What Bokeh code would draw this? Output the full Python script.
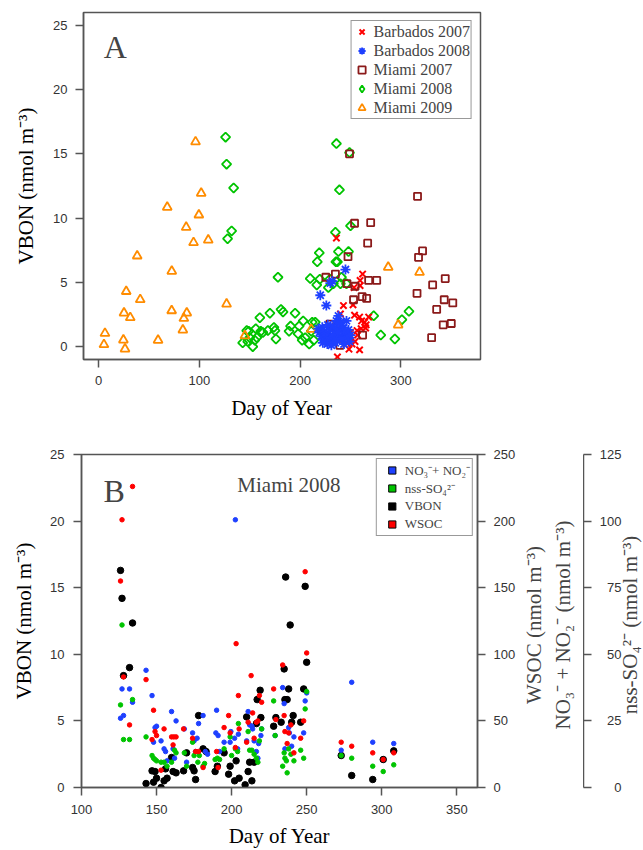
import math
from bokeh.plotting import figure
from bokeh.models import Range1d, LinearAxis, FixedTicker, Legend, LegendItem, Label
from bokeh.layouts import column, row
from bokeh.embed import file_html
from bokeh.resources import INLINE

# ---------------- data: panel A (VBON, nmol m-3 vs day of year) ----------------
days_b07 = [236, 262, 253.5, 259.5, 243, 252.5, 240, 254, 259, 264, 265.5, 260.5, 256.5, 243,
            251.5, 248.5, 259, 237, 254.5, 259.5, 261, 268, 265, 249.5, 246, 257, 241, 250]
vbon_b07 = [8.45, 5.65, 4.6, 4.75, 3.2, 3.25, 2.55, 2.45, 2.3, 1.9, 1.7, 1.4, 1.25, 1.0,
            0.2, -0.2, -0.25, -0.8, 0.4, 5.15, 2.0, 2.3, 1.45, 0.7, 0.3, 0.9, 1.7, 1.1]

days_b08 = [220, 226, 245, 230, 232,
            218, 219, 221, 222, 223, 224, 225, 226, 227, 228, 229, 230, 231, 232, 233, 234, 235,
            236, 237, 238, 239, 240, 241, 242, 243, 244, 245, 246, 247, 248, 249, 250,
            222.5, 227.5, 233.5, 236.5, 239.5, 243.5, 237.5, 241.5]
vbon_b08 = [4.0, 3.2, 6.0, 4.95, 5.1,
            1.4, 1.1, 0.8, 1.5, 0.6, 1.2, 0.4, 0.9, 0.2, 1.0, 0.5, 1.3, 0.1, 0.7, 1.6, 1.0, 0.3,
            2.0, 1.4, 2.4, 0.8, 1.9, 1.2, 0.6, 1.5, 0.9, 1.1, 2.0, 0.7, 1.3, 0.4, 0.9,
            0.3, 1.7, 0.8, 0.5, 1.8, 0.2, 1.1, 0.6]

days_m07 = [225.5, 229.5, 235, 236, 239.5, 246.5, 247.5, 249, 253, 254, 254.5, 261.5, 262, 266,
            267, 268, 270, 276, 316, 316.5, 317.5, 321.5, 330.5, 331.5, 335.5, 342, 343, 344,
            350, 351.5]
vbon_m07 = [5.4, 1.75, 5.65, 1.5, 0.1, 4.9, 7.0, 15.0, 3.65, 9.6, 4.7, 3.9, 0.9, 3.75,
            8.05, 5.15, 9.65, 5.15, 4.15, 11.7, 6.95, 7.45, 0.7, 4.8, 2.9, 1.7, 3.65, 5.3,
            1.8, 3.4]

# Miami 2008 VBON (also the black series of panel B)
days_m08 = [126, 127, 128, 132, 134, 143, 147, 148, 149, 150, 153, 155, 156, 157, 160,
            161, 163, 168, 170, 174, 175, 176, 178, 181, 183, 189, 190.5, 195, 198, 199,
            202, 203, 205, 209, 210, 211, 212, 213.5, 215, 216.5, 217, 219, 219.5, 228, 229.5,
            233, 235, 235.5, 236, 237, 238, 239, 240, 241, 246, 248, 249, 250, 273, 280,
            294, 301, 308]
vbon_m08 = [16.3, 14.2, 8.4, 9.0, 12.35, 0.3, 1.25, 0.4, 1.2, 0.7, 0.0, 0.5, 1.4, 0.7, 2.25,
            1.2, 1.1, 1.25, 2.6, 1.5, 1.25, 0.6, 5.4, 2.9, 2.7, 1.2, 1.6, 2.6, 1.0, 1.6,
            0.5, 2.0, 0.7, 0.2, 5.3, 1.2, 1.9, 0.5, 1.9, 4.8, 6.6, 7.3, 5.25, 4.6, 5.25,
            4.9, 8.9, 6.6, 15.8, 6.6, 7.4, 12.2, 4.9, 5.4, 4.9, 7.4, 15.1, 9.4, 2.4, 0.9,
            0.6, 2.1, 2.75]

days_m09 = [5.3, 6.3, 24.6, 26.2, 25.2, 27.4, 31.4, 38.3, 41.3, 59, 68.1, 72.5, 72.6, 83.6,
            84.6, 87.5, 86.9, 94.2, 96.2, 99.5, 101.8, 108.8, 127, 145.2, 211, 287.4, 297.3, 318.5]
vbon_m09 = [0.16, 1.04, 0.52, -0.18, 2.62, 4.3, 2.26, 7.06, 3.66, 0.5, 10.85, 2.8, 5.87, 1.3,
            2.2, 2.62, 9.29, 8.1, 15.94, 10.25, 11.94, 8.3, 3.32, 0.85, 1.35, 6.18, 1.69, 5.79]

# ---------------- data: panel B (Miami 2008) ----------------
days_wsoc = [126, 127, 128, 132, 134, 143, 147, 148, 149, 150, 153, 155, 160, 161, 161.5,
             163, 168, 174, 176, 178, 181, 190, 191, 195, 198, 199, 202.5, 203, 204.5, 205,
             210, 211, 213, 214, 215, 216.5, 217.5, 218.5, 220, 228, 229.5, 234, 235, 235.5, 237,
             238, 239.5, 241.5, 246, 248, 249, 250, 273, 280, 294, 301, 308]
wsoc = [155, 201, 83, 47, 226, 81, 36, 58, 42, 39, 13, 44, 38, 32, 38,
        38, 44, 37, 27, 27, 15, 27, 15, 45, 54, 41, 30, 108, 69, 44,
        34, 49, 84, 56, 37, 49, 50, 69, 64, 74, 51, 92, 54, 42, 33,
        41, 47, 26, 37, 50, 162, 101, 34, 31, 26, 21, 26]

days_no3 = [126, 127, 128, 132, 134, 143, 147, 148, 149, 150, 153, 155, 156, 157, 160,
            161, 162, 163, 168.5, 170, 174, 175, 176, 177, 178, 181, 182.5, 184, 189.5, 190,
            191, 192, 195, 199, 199.5, 202, 202.5, 204, 204.5, 210, 211, 212, 213.5, 214, 215,
            216.5, 217.5, 218, 219.5, 220, 229, 234, 235, 235.5, 238, 238.5, 240, 241.5, 248, 249,
            250, 273, 280, 294, 308]
no3 = [52, 74, 54, 74, 64, 88, 69, 34, 45, 46, 35, 29, 27, 20, 57,
       29, 22, 50, 44, 19, 41, 35, 27, 37, 48, 54, 27, 25, 41, 58,
       39, 27, 34, 34, 42, 37, 201, 29, 40, 35, 57, 47, 46, 44, 35,
       27, 22, 33, 39, 44, 39, 75, 63, 29, 45, 41, 31, 38, 41, 65,
       71, 28, 79, 34, 33]

days_so4 = [126, 127, 128, 132, 134, 143, 147, 148, 149, 150, 153, 155, 157, 160, 162,
            163, 168.5, 170, 174, 175, 177.5, 178.5, 181, 182, 189, 190.5, 192, 195, 199, 200,
            202.5, 204, 204.5, 211, 212, 213.5, 215, 216.5, 217.5, 218.5, 220, 228, 229, 234, 235,
            235.5, 236.5, 237, 238, 239.5, 241.5, 246, 248, 249, 250, 273, 280, 294, 301, 308]
so4 = [31, 61, 18, 18, 33, 19, 12, 11, 10.5, 10, 9.5, 9.5, 8, 9.5, 14,
       13, 13, 8, 17, 12, 9.5, 12, 8, 9, 10.5, 11, 10.5, 14.5, 19, 12,
       14.5, 13.5, 24, 21, 14, 14, 12.5, 11, 9.5, 17.5, 22, 32.5, 19.5, 8, 13,
       11, 10, 5.5, 14.5, 12.5, 10, 14, 11, 29.5, 36, 12, 11, 8, 6, 8.5]

ticks_a_x = [0, 100, 200, 300]
ticks_vbon = [0, 5, 10, 15, 20, 25]
ticks_b_x = [100, 150, 200, 250, 300, 350]
ticks_wsoc = [0, 50, 100, 150, 200, 250]
ticks_so4 = [0, 25, 50, 75, 100, 125]

legend_a = ["Barbados 2007", "Barbados 2008", "Miami 2007", "Miami 2008", "Miami 2009"]
legend_b = ["NO\u2083\u207b+ NO\u2082\u207b", "nss-SO\u2084\u00b2\u207b", "VBON", "WSOC"]

SERIF = "Liberation Serif"
SANS = "Liberation Sans"
AX = "#555555"
RED, BLUE, GREEN = "#FF0000", "#1E40FF", "#00C400"
MAROON, ORANGE = "#8B1A1A", "#FF8C00"
M3 = "(nmol m\u207b\u00b3)"
NAN = [float("nan")]


def style_axis(ax, ticks, std=8, lstd=10):
    ax.ticker = FixedTicker(ticks=ticks)
    ax.major_tick_out = 8
    ax.major_tick_in = 0
    ax.minor_tick_out = 0
    ax.minor_tick_in = 0
    ax.axis_line_color = AX
    ax.axis_line_width = 1.5
    ax.major_tick_line_color = AX
    ax.major_tick_line_width = 1.5
    ax.major_label_text_font = SANS
    ax.major_label_text_font_size = "13px"
    ax.major_label_text_color = "#333333"
    ax.major_label_standoff = std
    ax.axis_label_text_font = SERIF
    ax.axis_label_text_font_size = "21px"
    ax.axis_label_text_font_style = "normal"
    ax.axis_label_text_color = "black"
    ax.axis_label_standoff = lstd


def vlabel(x, y, text):
    return Label(x=x, y=y, text=text, angle=math.pi / 2, text_align="center",
                 text_baseline="middle", text_font=SERIF, text_font_size="21px")


# ---------------- panel A ----------------
pA = figure(width=643, height=425, x_range=Range1d(-15, 379), y_range=Range1d(-1, 26),
            output_backend="svg", toolbar_location=None,
            min_border_left=83, min_border_right=163, min_border_top=12, min_border_bottom=66)
pA.grid.visible = False
pA.outline_line_color = AX
pA.outline_line_width = 1.5
pA.xaxis.axis_label = "Day of Year"
pA.yaxis.axis_label = "VBON " + M3
style_axis(pA.xaxis[0], ticks_a_x, 8, 8)
style_axis(pA.yaxis[0], ticks_vbon, 8, 12)

r_m08 = pA.scatter(days_m08, vbon_m08, marker="square", angle=math.pi / 4, size=6.5,
                   fill_color=None, line_color=GREEN, line_width=1.8)
r_m09 = pA.scatter(days_m09, vbon_m09, marker="triangle", size=9,
                   fill_color=None, line_color=ORANGE, line_width=1.8)
r_b07 = pA.scatter(days_b07, vbon_b07, marker="x", size=9, line_color=RED, line_width=2)
r_m07 = pA.scatter(days_m07, vbon_m07, marker="square", size=7,
                   fill_color=None, line_color=MAROON, line_width=1.8)
r_b08 = pA.scatter(days_b08, vbon_b08, marker="asterisk", size=10, line_color=BLUE, line_width=1.8)
# legend key for the diamonds (nothing drawn in the plot area)
r_m08_key = pA.scatter(NAN, NAN, marker="diamond", size=9, fill_color=None,
                       line_color=GREEN, line_width=1.8)

legA = Legend(items=[LegendItem(label=l, renderers=[r])
                     for l, r in zip(legend_a, [r_b07, r_b08, r_m07, r_m08_key, r_m09])],
              location="top_right", margin=8, padding=1, spacing=0,
              glyph_width=18, glyph_height=19, label_standoff=3,
              label_text_font=SERIF, label_text_font_size="16px",
              border_line_color="#333333", border_line_width=1,
              background_fill_color="white", background_fill_alpha=1)
pA.add_layout(legA)
pA.add_layout(Label(x=5, y=23.3, text="A", text_font=SERIF, text_font_size="32px",
                    text_baseline="alphabetic"))

# ---------------- panel B ----------------
pB = figure(width=518, height=425, x_range=Range1d(100, 363.8), y_range=Range1d(0, 25),
            output_backend="svg", toolbar_location=None,
            min_border_left=81, min_border_right=40, min_border_top=29, min_border_bottom=62)
pB.grid.visible = False
pB.outline_line_color = AX
pB.outline_line_width = 1.5
pB.extra_y_ranges = {"w": Range1d(0, 250), "s": Range1d(0, 125)}
pB.xaxis.axis_label = "Day of Year"
pB.yaxis.axis_label = "VBON " + M3
style_axis(pB.xaxis[0], ticks_b_x, 9, 7)
style_axis(pB.yaxis[0], ticks_vbon, 9, 11)

ax1 = LinearAxis(y_range_name="w")
style_axis(ax1, ticks_wsoc, 8, 5)
pB.add_layout(ax1, "right")

pB.scatter(days_m08, vbon_m08, size=6.5, fill_color="black", line_color="black")
pB.scatter(days_no3, no3, y_range_name="w", size=4.5, fill_color=BLUE, line_color=BLUE)
pB.scatter(days_so4, so4, y_range_name="s", size=4.5, fill_color=GREEN, line_color=GREEN)
pB.scatter(days_wsoc, wsoc, y_range_name="w", size=4.5, fill_color=RED, line_color=RED)

leg_colors = [BLUE, GREEN, "black", RED]
leg_items = []
for lab, col in zip(legend_b, leg_colors):
    rr = pB.scatter(NAN, NAN, marker="square", size=7,
                    fill_color=col, line_color="black", line_width=1)
    leg_items.append(LegendItem(label=lab, renderers=[rr]))
legB = Legend(items=leg_items, location="top_right", margin=4, padding=2, spacing=0,
              glyph_width=26, glyph_height=18, label_standoff=0,
              label_text_font=SERIF, label_text_font_size="13px",
              border_line_color="#333333", border_line_width=1,
              background_fill_color="white", background_fill_alpha=1)
pB.add_layout(legB)
pB.add_layout(Label(x=114.6, y=22.25, text="B", text_font=SERIF, text_font_size="32px",
                    text_baseline="alphabetic"))
pB.add_layout(Label(x=203.8, y=22.7, text="Miami 2008", text_font=SERIF, text_font_size="21px",
                    text_baseline="alphabetic"))

# titles of the WSOC / NO3+NO2 axis (strip between the two right axes)
pT = figure(width=65, height=425, x_range=Range1d(0, 65), y_range=Range1d(0, 25),
            output_backend="svg", toolbar_location=None,
            x_axis_location=None, y_axis_location=None,
            min_border_left=0, min_border_right=0, min_border_top=29, min_border_bottom=62)
pT.grid.visible = False
pT.outline_line_color = None
pT.add_layout(vlabel(15, 12.2, "WSOC " + M3))
pT.add_layout(vlabel(44, 12.2, "NO\u2083\u207b + NO\u2082\u207b " + M3))

# far-right nss-SO4 axis (same vertical frame as panel B)
pS = figure(width=60, height=425, x_range=Range1d(0, 60), y_range=Range1d(0, 125),
            output_backend="svg", toolbar_location=None,
            x_axis_location=None, y_axis_location="left",
            min_border_left=0, min_border_right=0, min_border_top=29, min_border_bottom=62)
pS.grid.visible = False
pS.outline_line_color = None
style_axis(pS.yaxis[0], ticks_so4, -38, 5)
pS.yaxis[0].major_tick_out = 0
pS.yaxis[0].major_tick_in = 8
pS.add_layout(vlabel(46, 61, "nss-SO\u2084\u00b2\u207b " + M3))

layout = column(pA, row(pB, pT, pS, spacing=0), spacing=0)
open("out.html", "w").write(file_html(layout, INLINE))
